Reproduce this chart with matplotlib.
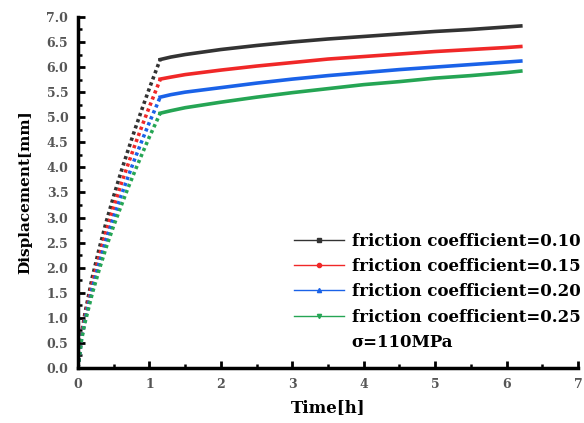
import matplotlib
matplotlib.use("Agg")
import matplotlib.pyplot as plt
from matplotlib.lines import Line2D
from matplotlib.ticker import MultipleLocator

# Loading stage (t from 0 to 1.15 h)
t_load = [0, 0.05, 0.1, 0.2, 0.3, 0.4, 0.5, 0.6, 0.7, 0.8, 0.9, 1.0, 1.1, 1.15]
load_010 = [0, 0.69, 1.11, 1.81, 2.40, 2.94, 3.43, 3.90, 4.34, 4.77, 5.18, 5.58, 5.96, 6.15]
load_015 = [0, 0.64, 1.04, 1.69, 2.24, 2.75, 3.21, 3.65, 4.06, 4.46, 4.84, 5.21, 5.57, 5.75]
load_020 = [0, 0.60, 0.98, 1.59, 2.11, 2.58, 3.01, 3.42, 3.81, 4.19, 4.55, 4.90, 5.23, 5.40]
load_025 = [0, 0.57, 0.92, 1.49, 1.98, 2.43, 2.84, 3.22, 3.59, 3.94, 4.28, 4.61, 4.92, 5.08]

# Creep stage (t from 1.15 to 6.2 h)
t_creep = [1.15, 1.3, 1.5, 2.0, 2.5, 3.0, 3.5, 4.0, 4.5, 5.0, 5.5, 6.0, 6.2]
creep_010 = [6.15, 6.20, 6.25, 6.35, 6.43, 6.50, 6.56, 6.61, 6.66, 6.71, 6.75, 6.80, 6.82]
creep_015 = [5.76, 5.80, 5.85, 5.94, 6.02, 6.09, 6.16, 6.21, 6.26, 6.31, 6.35, 6.39, 6.41]
creep_020 = [5.40, 5.45, 5.50, 5.59, 5.68, 5.76, 5.83, 5.89, 5.95, 6.00, 6.05, 6.10, 6.12]
creep_025 = [5.08, 5.13, 5.19, 5.30, 5.40, 5.49, 5.57, 5.65, 5.71, 5.78, 5.83, 5.89, 5.92]

labels = ["friction coefficient=0.10", "friction coefficient=0.15",
          "friction coefficient=0.20", "friction coefficient=0.25"]
note = "σ=110MPa"
colors = ["#333333", "#f02828", "#1a62e8", "#25a554"]
markers = ["s", "o", "^", "v"]
x_ticks = [0, 1, 2, 3, 4, 5, 6, 7]
y_ticks = [0.0, 0.5, 1.0, 1.5, 2.0, 2.5, 3.0, 3.5, 4.0, 4.5, 5.0, 5.5, 6.0, 6.5, 7.0]

loads = [load_010, load_015, load_020, load_025]
creeps = [creep_010, creep_015, creep_020, creep_025]

serif = ["DejaVu Serif"]

fig = plt.figure(figsize=(5.84, 4.23), dpi=100)
ax = fig.add_axes([0.1336, 0.130, 0.856, 0.830])

for ld, cr, c in zip(loads, creeps, colors):
    ax.plot(t_load, ld, color=c, lw=2.6, linestyle=(0, (0.9, 0.9)), solid_capstyle="butt")
    ax.plot(t_creep, cr, color=c, lw=2.6, solid_joinstyle="round")

ax.set_xlim(0, 7)
ax.set_ylim(0, 7)
ax.set_xticks(x_ticks)
ax.set_xticklabels([str(v) for v in x_ticks])
ax.set_yticks(y_ticks)
ax.set_yticklabels([f"{v:.1f}" for v in y_ticks])
ax.xaxis.set_minor_locator(MultipleLocator(0.5))
ax.yaxis.set_minor_locator(MultipleLocator(0.25))

for s in ["top", "right"]:
    ax.spines[s].set_visible(False)
for s in ["left", "bottom"]:
    ax.spines[s].set_linewidth(2.5)
    ax.spines[s].set_color("black")

ax.tick_params(which="major", direction="in", length=5, width=2, colors="black",
               labelcolor="#555555", labelsize=9, pad=7)
ax.tick_params(which="minor", direction="in", length=3, width=1.8, colors="black")
for lab in ax.get_xticklabels() + ax.get_yticklabels():
    lab.set_fontfamily(serif)
    lab.set_fontweight("bold")

ax.set_xlabel("Time[h]", fontfamily=serif, fontweight="bold", fontsize=12, labelpad=6)
ax.set_ylabel("Displacement[mm]", fontfamily=serif, fontweight="bold", fontsize=11, labelpad=10)

handles = [Line2D([], [], color=c, lw=1, marker=m, markersize=3) for c, m in zip(colors, markers)]
handles.append(Line2D([], [], color="none"))
leg = ax.legend(handles, labels + [note], loc="lower right", bbox_to_anchor=(1.025, 0.02),
                frameon=False, handlelength=3.0, handletextpad=0.45, labelspacing=0.5,
                borderaxespad=0.2,
                prop={"family": serif, "weight": "bold", "size": 12})

fig.savefig("out.png", dpi=100)
